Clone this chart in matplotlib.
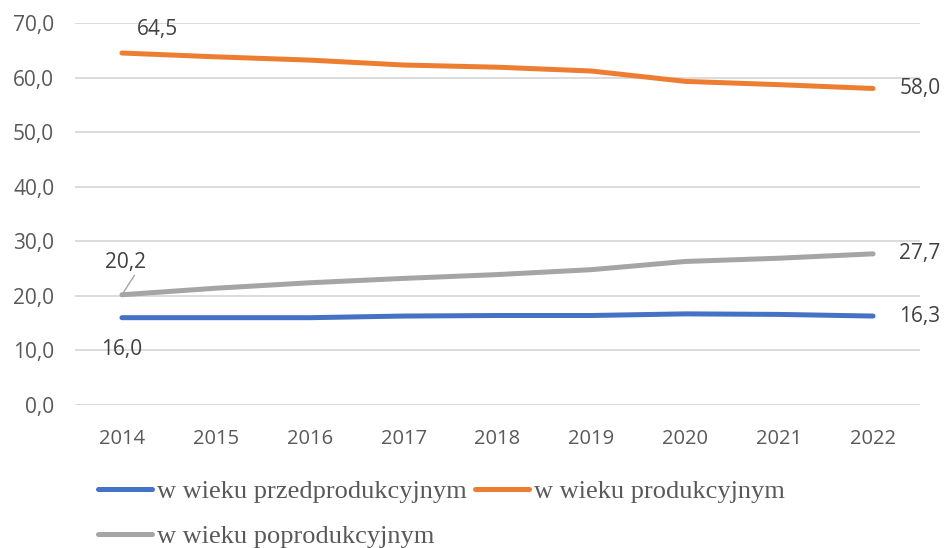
import matplotlib
matplotlib.use("Agg")
import matplotlib.pyplot as plt
from matplotlib.lines import Line2D

years = [2014, 2015, 2016, 2017, 2018, 2019, 2020, 2021, 2022]
przed = [16.0, 16.0, 16.0, 16.3, 16.4, 16.4, 16.7, 16.6, 16.3]
prod = [64.5, 63.8, 63.2, 62.3, 61.9, 61.2, 59.3, 58.7, 58.0]
popr = [20.2, 21.4, 22.4, 23.2, 23.9, 24.8, 26.3, 26.9, 27.7]
names = ["w wieku przedprodukcyjnym", "w wieku produkcyjnym", "w wieku poprodukcyjnym"]
colors = ["#4472C4", "#ED7D31", "#A5A5A5"]

def fmt(v):
    return f"{v:.1f}".replace(".", ",")

fig = plt.figure(figsize=(9.44, 5.48), dpi=100)
ax = fig.add_axes([75/944, 1-405/548, 845/944, 382/548])
x = list(range(len(years)))
for ys, c in zip([przed, prod, popr], colors):
    ax.plot(x, ys, color=c, lw=3.6, solid_capstyle="round", zorder=3)

ax.set_xlim(-0.5, len(years) - 0.5)
ax.set_ylim(0, 70)
ax.set_yticks(range(0, 71, 10))
ax.set_yticklabels([fmt(v) for v in range(0, 71, 10)])
ax.set_xticks(x)
ax.set_xticklabels([str(y) for y in years])
ax.grid(axis="y", color="#D9D9D9", lw=1.3)
ax.set_axisbelow(True)
for s in ax.spines.values():
    s.set_visible(False)
ax.tick_params(length=0, labelcolor="#595959")
ax.tick_params(axis="y", pad=15, labelsize=15)
ax.tick_params(axis="x", pad=17, labelsize=14.5)
for lab in ax.get_xticklabels() + ax.get_yticklabels():
    lab.set_family("Open Sans")

tk = dict(fontsize=15, color="#404040", family="Open Sans")
# left labels
ax.annotate(fmt(prod[0]), (0, prod[0]), xytext=(11, 17), textcoords="offset points", ha="left", va="center", **tk)
ax.annotate(fmt(popr[0]), (0, popr[0]), xytext=(-12, 23), textcoords="offset points", ha="left", va="center", **tk)
ax.annotate("", (0, popr[0]), xytext=(9, 14), textcoords="offset points",
            arrowprops=dict(arrowstyle="-", color="#A5A5A5", lw=1, shrinkA=0, shrinkB=1))
ax.annotate(fmt(przed[0]), (0, przed[0]), xytext=(0, -23), textcoords="offset points", ha="center", va="center", **tk)
# right labels
for ys in [przed, prod, popr]:
    ax.annotate(fmt(ys[-1]), (len(years) - 1, ys[-1]), xytext=(19, 0), textcoords="offset points",
                ha="left", va="center", **tk)

handles = [Line2D([], [], color=c, lw=3.6, solid_capstyle="round") for c in colors]
leg_font = dict(family="Liberation Serif", size=19)
common = dict(loc="center left", frameon=False, prop=leg_font, handlelength=2.05, handletextpad=0.2,
              columnspacing=0.3, labelcolor="#595959", borderpad=0, borderaxespad=0)
fig.legend(handles[:2], names[:2], bbox_to_anchor=(98/944, 1-491/548), ncol=2, **common)
fig.legend(handles[2:], names[2:], bbox_to_anchor=(98/944, 1-536/548), ncol=1, **common)

fig.savefig("out.png", dpi=100)
